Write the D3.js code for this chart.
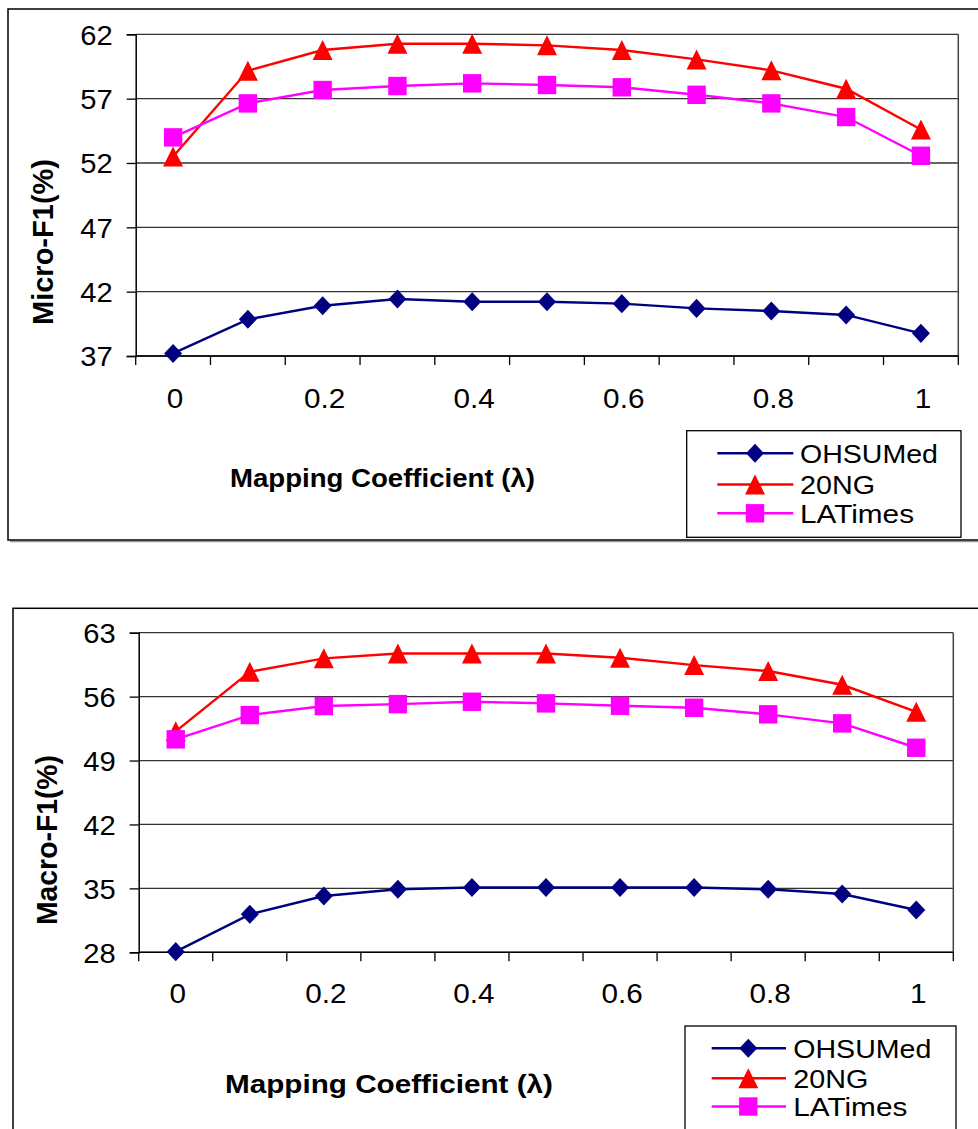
<!DOCTYPE html>
<html>
<head>
<meta charset="utf-8">
<script src="https://cdn.jsdelivr.net/npm/d3@7"></script>
<style>
  html, body { margin: 0; padding: 0; background: #fff; }
  svg { display: block; }
  text { font-family: Arial, "Liberation Sans", sans-serif; fill: #000; }
</style>
</head>
<body>
<svg id="chart" width="978" height="1129"></svg>
<script>
// ---------- data ----------
const lambdas = ["0","0.1","0.2","0.3","0.4","0.5","0.6","0.7","0.8","0.9","1"];
const xTickLabels = ["0","0.2","0.4","0.6","0.8","1"];
const seriesNames = ["OHSUMed","20NG","LATimes"];

const microOHSUMed = [37.2, 39.85, 40.9, 41.43, 41.22, 41.22, 41.07, 40.7, 40.5, 40.19, 38.76];
const micro20NG    = [52.5, 59.17, 60.78, 61.27, 61.27, 61.14, 60.78, 60.05, 59.2, 57.77, 54.6];
const microLATimes = [53.99, 56.63, 57.67, 57.98, 58.19, 58.06, 57.88, 57.3, 56.63, 55.57, 52.56];
const microTicks   = [37, 42, 47, 52, 57, 62];

const macroOHSUMed = [28.07, 32.16, 34.16, 34.9, 35.1, 35.1, 35.1, 35.1, 34.9, 34.38, 32.63];
const macro20NG    = [52.2, 58.72, 60.19, 60.73, 60.73, 60.73, 60.26, 59.45, 58.8, 57.3, 54.34];
const macroLATimes = [51.32, 53.98, 54.97, 55.18, 55.44, 55.26, 55.0, 54.78, 54.06, 53.07, 50.4];
const macroTicks   = [28, 35, 42, 49, 56, 63];

// ---------- styles ----------
const colors = ["#000080", "#FF0000", "#FF00FF"];
const FONT = 'Arial, "Liberation Sans", sans-serif';

// custom marker shapes (size = half-extent in px)
const diamondSym = { draw(ctx, s) { ctx.moveTo(0, -s*1.06); ctx.lineTo(s, 0); ctx.lineTo(0, s*1.06); ctx.lineTo(-s, 0); ctx.closePath(); } };
const triangleSym = { draw(ctx, s) { ctx.moveTo(0, -s); ctx.lineTo(s, s); ctx.lineTo(-s, s); ctx.closePath(); } };
const squareSym = { draw(ctx, s) { ctx.rect(-s, -s, 2*s, 2*s); } };
const symbols = [diamondSym, triangleSym, squareSym];
const markerSize = [9, 10, 9.2];

const svg = d3.select("#chart");

function stretch(sel, k) {
  sel.each(function () {
    const len = this.getComputedTextLength();
    d3.select(this).attr("textLength", len * k).attr("lengthAdjust", "spacingAndGlyphs");
  });
}

function drawChart(cfg) {
  const g = svg.append("g");

  // outer frame with shadow
  g.append("line").attr("x1", cfg.frame.x + 2).attr("x2", 990)
    .attr("y1", cfg.frame.y + cfg.frame.h + 1.5).attr("y2", cfg.frame.y + cfg.frame.h + 1.5)
    .attr("stroke", "#999").attr("stroke-width", 1.5);
  g.append("rect").attr("x", cfg.frame.x).attr("y", cfg.frame.y)
    .attr("width", cfg.frame.w).attr("height", cfg.frame.h)
    .attr("fill", "none").attr("stroke", "#000").attr("stroke-width", 1.5);

  const p = cfg.plot;
  const x = d3.scaleBand().domain(lambdas).range([p.x0, p.x1]).paddingInner(0).paddingOuter(0);
  const y = d3.scaleLinear().domain([cfg.ticks[0], cfg.ticks[cfg.ticks.length - 1]]).range([p.y1, p.y0]);

  // gridlines
  g.append("g").selectAll("line").data(cfg.ticks).join("line")
    .attr("x1", p.x0).attr("x2", p.x1)
    .attr("y1", d => y(d)).attr("y2", d => y(d))
    .attr("stroke", "#333").attr("stroke-width", 1.3);
  // right border of plot area
  g.append("line").attr("x1", p.x1).attr("x2", p.x1).attr("y1", p.y0).attr("y2", p.y1)
    .attr("stroke", "#444").attr("stroke-width", 1.5);

  // y axis
  const yAxis = d3.axisLeft(y).tickValues(cfg.ticks).tickSize(9).tickPadding(14).tickFormat(d3.format("d"));
  const ya = g.append("g").attr("transform", `translate(${p.x0},0)`).call(yAxis);
  ya.select(".domain").attr("stroke", "#000").attr("stroke-width", 1.5);
  ya.selectAll(".tick line").attr("stroke", "#000").attr("stroke-width", 1.3);
  ya.selectAll(".tick text").attr("font-size", 27).attr("font-family", FONT).attr("fill", "#000").attr("dy", "0.36em");
  stretch(ya.selectAll(".tick text"), 1.08);

  // x axis: tick marks at band edges
  const edges = lambdas.map(d => x(d)).concat([p.x1]);
  g.append("line").attr("x1", p.x0).attr("x2", p.x1).attr("y1", p.y1).attr("y2", p.y1)
    .attr("stroke", "#000").attr("stroke-width", 1.5);
  g.append("g").selectAll("line").data(edges).join("line")
    .attr("x1", d => d).attr("x2", d => d)
    .attr("y1", p.y1).attr("y2", p.y1 + 9)
    .attr("stroke", "#000").attr("stroke-width", 1.3);
  // x labels every other category
  const xl = g.append("g").selectAll("text").data(xTickLabels).join("text")
    .attr("x", d => x(d) + x.bandwidth() / 2 + 2)
    .attr("y", cfg.xLabelY)
    .attr("text-anchor", "middle")
    .attr("font-size", 27)
    .text(d => d);
  stretch(xl, 1.1);

  // axis titles
  g.append("text")
    .attr("transform", `translate(${cfg.yTitle.x},${cfg.yTitle.y}) rotate(-90)`)
    .attr("text-anchor", "start").attr("dominant-baseline", "central")
    .attr("font-size", 29).attr("font-weight", "bold")
    .attr("textLength", cfg.yTitle.len).attr("lengthAdjust", "spacingAndGlyphs")
    .text(cfg.yTitleText);
  g.append("text")
    .attr("x", cfg.xTitle.x).attr("y", cfg.xTitle.y)
    .attr("font-size", 26).attr("font-weight", "bold")
    .attr("textLength", cfg.xTitle.len).attr("lengthAdjust", "spacingAndGlyphs")
    .text("Mapping Coefficient (λ)");

  // series
  const line = d3.line().x((d, i) => x(lambdas[i]) + x.bandwidth() / 2).y(d => y(d));
  cfg.series.forEach((vals, si) => {
    g.append("path").datum(vals).attr("d", line)
      .attr("fill", "none").attr("stroke", colors[si]).attr("stroke-width", 2.4);
    g.append("g").selectAll("path").data(vals).join("path")
      .attr("transform", (d, i) => `translate(${x(lambdas[i]) + x.bandwidth() / 2},${y(d)})`)
      .attr("d", d3.symbol().type(symbols[si]).size(markerSize[si]))
      .attr("fill", colors[si]);
  });

  // legend
  const L = cfg.legend;
  g.append("rect").attr("x", L.x).attr("y", L.y).attr("width", L.w).attr("height", L.h)
    .attr("fill", "#fff").attr("stroke", "#000").attr("stroke-width", 1.3);
  const rows = g.append("g").selectAll("g").data(seriesNames).join("g")
    .attr("transform", (d, i) => `translate(0,${L.rows[i]})`);
  rows.append("line").attr("x1", L.lx0).attr("x2", L.lx1).attr("y1", 0).attr("y2", 0)
    .attr("stroke", (d, i) => colors[i]).attr("stroke-width", 2.4);
  rows.append("path")
    .attr("transform", `translate(${L.mx},0)`)
    .attr("d", (d, i) => d3.symbol().type(symbols[i]).size(markerSize[i])())
    .attr("fill", (d, i) => colors[i]);
  rows.append("text").attr("x", L.tx).attr("y", 0).attr("dy", "0.36em")
    .attr("font-size", 26)
    .attr("textLength", (d, i) => L.tlen[i]).attr("lengthAdjust", "spacingAndGlyphs")
    .text(d => d);
}

drawChart({
  frame: { x: 8, y: 9, w: 990, h: 531 },
  plot: { x0: 135.7, x1: 958.3, y0: 34.3, y1: 356 },
  ticks: microTicks,
  series: [microOHSUMed, micro20NG, microLATimes],
  xLabelY: 408,
  yTitleText: "Micro-F1(%)",
  yTitle: { x: 43, y: 325, len: 166 },
  xTitle: { x: 230, y: 487, len: 305 },
  legend: { x: 686.7, y: 430.7, w: 274.3, h: 106.6, rows: [453.3, 484.5, 513.3],
            lx0: 717.3, lx1: 793.3, mx: 755, tx: 800, tlen: [138, 75, 114] }
});

drawChart({
  frame: { x: 13, y: 608.3, w: 990, h: 560 },
  plot: { x0: 138.7, x1: 953.3, y0: 632.7, y1: 952.3 },
  ticks: macroTicks,
  series: [macroOHSUMed, macro20NG, macroLATimes],
  xLabelY: 1003,
  yTitleText: "Macro-F1(%)",
  yTitle: { x: 46.5, y: 925, len: 170 },
  xTitle: { x: 225, y: 1093, len: 328 },
  legend: { x: 685, y: 1026, w: 271, h: 130, rows: [1048.3, 1078.3, 1106.5],
            lx0: 711.7, lx1: 786, mx: 748.3, tx: 793.3, tlen: [138, 75, 114] }
});
</script>
</body>
</html>
